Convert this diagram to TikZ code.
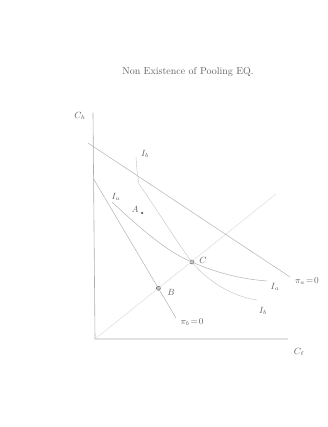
\documentclass[tikz,border=0pt]{standalone}
\usepackage{tikz}
\usetikzlibrary{positioning,calc}
\begin{document}
\begin{tikzpicture}[x=1pt, y=-1pt,
    axis/.style={draw=gray!65, line width=0.6pt},
    pencil/.style={draw=gray!60, line width=0.5pt},
    faint/.style={draw=gray!30, line width=0.45pt},
    lbl/.style={text=gray!75!black, font=\small, inner sep=1pt},
    ttl/.style={text=gray!75!black, font=\normalsize},
    pt/.style={circle, draw=gray!70!black, fill=gray!45, line width=0.5pt,
      inner sep=0pt, minimum size=4pt},
    dotA/.style={circle, fill=gray!70!black, inner sep=0pt, minimum size=2.5pt}
  ]
    \useasboundingbox (0,0) rectangle (328,427);
    \node[ttl] (TITLE) at (188,72) {Non Existence of Pooling EQ.};
    \coordinate (O) at (95,339);
    \coordinate (YTOP) at (93,113);
    \coordinate (XEND) at (288,339);
    \coordinate (DIAG) at (276,194);
    \coordinate (PAS) at (88,143);
    \coordinate (PAE) at (290,277);
    \coordinate (PBS) at (93,178);
    \coordinate (PBE) at (176,318);
    \coordinate (IAS) at (112,202);
    \coordinate (IAE) at (267,281);
    \coordinate (IBS) at (136,157);
    \coordinate (IBK) at (139,184);
    \coordinate (IBE) at (257,300);
    \node[pt] (C) at (192,262) {};
    \node[pt] (B) at (intersection of PBS--PBE and O--DIAG) {};
    \node[dotA] (A) at (142,213) {};
    \draw[axis] (YTOP) -- (O) -- (XEND);
    \draw[faint] (O) -- (DIAG);
    \draw[pencil] (PAS) -- (PAE);
    \draw[pencil] (PBS) -- (PBE);
    \draw[pencil] (IAS) .. controls (148,236) and (172,254) .. (C.center)
      .. controls (214,272) and (240,279) .. (IAE);
    \draw[faint, draw=gray!45] (IBS) .. controls (137,172) .. (IBK)
      .. controls (160,214) and (178,244) .. (C.center)
      .. controls (208,282) and (234,297) .. (IBE);
    \node[lbl] (CH) at (80,116) {$C_h$};
    \node[lbl] (CL) at (299,352) {$C_\ell$};
    \node[lbl] (PA) at (307,281) {$\pi_a\!=\!0$};
    \node[lbl] (PB) at (192,322) {$\pi_b\!=\!0$};
    \node[lbl] (IA1) at (116,197) {$I_a$};
    \node[lbl] (IA2) at (275,287) {$I_a$};
    \node[lbl] (IB1) at (145,154) {$I_b$};
    \node[lbl] (IB2) at (263,311) {$I_b$};
    \node[lbl] (LA) at (135,209) {$A$};
    \node[lbl] (LC) at (203,260) {$C$};
    \node[lbl] (LB) at (171,292) {$B$};
  \end{tikzpicture}
\end{document}
